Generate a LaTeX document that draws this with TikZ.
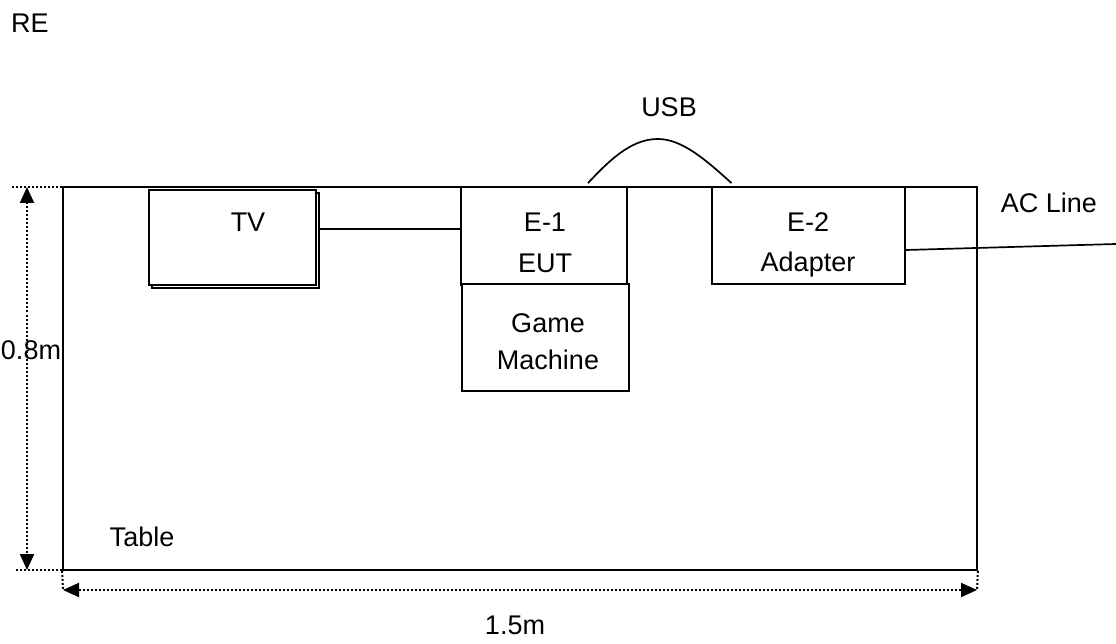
\documentclass[tikz,border=0pt]{standalone}
\usepackage{fontspec}
\setmainfont{Liberation Sans}
\usetikzlibrary{arrows.meta,shadows}
\begin{document}
\begin{tikzpicture}[x=1pt,y=-1pt]
\tikzset{
    >={Triangle[length=16pt,width=14pt]},
    caixa/.style={rectangle, line width=1.8pt, draw=black, fill=white, inner sep=0pt},
    linha/.style={-, line width=1.7pt},
    cota/.style={line width=2pt, dash pattern=on 2pt off 2pt},
    texto/.style={font=\fontsize{27}{32}\selectfont, inner sep=0pt,
                  text height=19.3pt, text depth=0pt}
}
\useasboundingbox (0,0) rectangle (1116,644);

% Mesa
\node[caixa, minimum width=914pt, minimum height=383pt] (mesa) at (520,378.5) {};
\node[texto] (tabela) at (142,537) {Table};

% Equipamentos
\node[caixa, minimum width=167pt, minimum height=95pt,
      copy shadow={shadow xshift=3pt, shadow yshift=-3pt}] (tv) at (232.5,237.5) {};
\node[caixa, minimum width=166pt, minimum height=98pt]  (eut)     at (544,236)     {};
\node[caixa, minimum width=167pt, minimum height=107pt] (jogo)    at (545.5,337.5) {};
\node[caixa, minimum width=193pt, minimum height=97pt]  (adapt)   at (808.5,235.5) {};

\node[texto] (tvtxt)  at (248,222) {TV};
\node[texto] (e1)     at (545,222) {E-1};
\node[texto] (euttxt) at (545,263) {EUT};
\node[texto] (game)   at (548,323) {Game};
\node[texto] (maq)    at (548,360) {Machine};
\node[texto] (e2)     at (808,222) {E-2};
\node[texto] (adtxt)  at (808,262) {Adapter};

% Cabos
\coordinate (rede) at (1116,244);
\coordinate (topo) at (658,139);
\draw[linha] ([xshift=3pt,yshift=8.5pt]tv.east) -- ([yshift=7pt]eut.west);
\draw[linha] ([yshift=-14.5pt]adapt.east) -- (rede);
\draw[linha] ([xshift=44pt,yshift=3pt]eut.north)
    .. controls (614,155) and (634,139) .. (topo)
    .. controls (682,139) and (706,160) .. ([xshift=-77pt,yshift=3pt]adapt.north);
\node[texto] (usb) at (669,107) {USB};
\node[texto] (ac)  at (1049,203) {AC Line};
\node[texto] (re)  at (30,23) {RE};

% Cotas
\coordinate (cv1) at (27,187);
\coordinate (cv2) at (27,570);
\coordinate (ch1) at (63,590);
\coordinate (ch2) at (977,590);
\draw[cota] (12,187) -- (80,187);
\draw[cota] (16,570) -- (86,570);
\draw[cota] (mesa.south west) -- (ch1);
\draw[cota] (mesa.south east) -- (ch2);
\draw[cota,<->] (cv1) -- (cv2);
\draw[cota,<->] (ch1) -- (ch2);
\node[texto] (altura)  at (31,350)  {0.8m};
\node[texto] (largura) at (515,625) {1.5m};
\end{tikzpicture}
\end{document}
